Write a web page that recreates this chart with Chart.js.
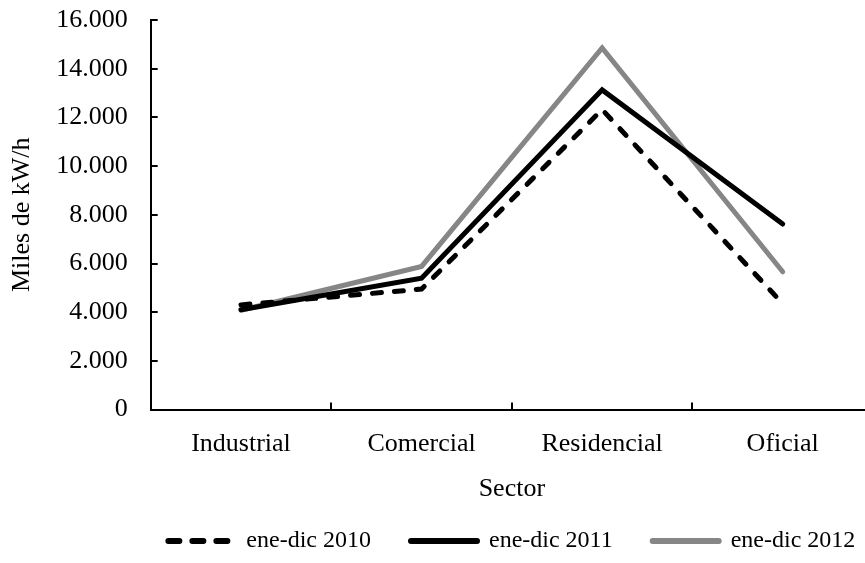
<!DOCTYPE html>
<html>
<head>
<meta charset="utf-8">
<script src="https://cdn.jsdelivr.net/npm/chart.js@4"></script>
<style>
  html, body { margin: 0; padding: 0; background: #fff; overflow: hidden; }
  #wrap { width: 865px; height: 563px; overflow: hidden; }
  #box { width: 882px; height: 563px; }
</style>
</head>
<body>
<div id="wrap"><div id="box"><canvas id="consumoChart"></canvas></div></div>
<script>
const sectores = ['Industrial', 'Comercial', 'Residencial', 'Oficial'];
const serie2010 = [4300, 4950, 12320, 4350];
const serie2011 = [4100, 5400, 13130, 7620];
const serie2012 = [4080, 5880, 14850, 5660];
const ticksY = [0, 2000, 4000, 6000, 8000, 10000, 12000, 14000, 16000];

const fuente = 'Liberation Serif, Times New Roman, serif';
const tam = 26;

function miles(v) {
  return v === 0 ? '0' : v.toLocaleString('de-DE');
}

// marcas de eje hacia dentro, como en Excel
const marcasDentro = {
  id: 'marcasDentro',
  afterDraw(chart) {
    const ctx = chart.ctx;
    const x = chart.scales.x, y = chart.scales.y;
    ctx.save();
    ctx.strokeStyle = '#000';
    ctx.lineWidth = 2;
    ctx.beginPath();
    ticksY.forEach(v => {
      const py = Math.round(y.getPixelForValue(v));
      ctx.moveTo(x.left, py);
      ctx.lineTo(x.left + 7, py);
    });
    for (let i = 1; i < sectores.length; i++) {
      const px = Math.round((x.getPixelForValue(i - 1) + x.getPixelForValue(i)) / 2);
      ctx.moveTo(px, y.bottom);
      ctx.lineTo(px, y.bottom - 7);
    }
    ctx.stroke();
    ctx.restore();
  }
};

const data = {
  labels: sectores,
  datasets: [
    {
      label: 'ene-dic 2010',
      data: serie2010,
      borderColor: '#000',
      backgroundColor: '#000',
      borderWidth: 5,
      borderDash: [9, 13],
      borderCapStyle: 'round',
      pointRadius: 0
    },
    {
      label: 'ene-dic 2011',
      data: serie2011,
      borderColor: '#000',
      backgroundColor: '#000',
      borderWidth: 5,
      borderCapStyle: 'round',
      pointRadius: 0
    },
    {
      label: 'ene-dic 2012',
      data: serie2012,
      borderColor: '#868686',
      backgroundColor: '#868686',
      borderWidth: 5,
      borderCapStyle: 'round',
      pointRadius: 0
    }
  ]
};

const config = {
  type: 'line',
  data: data,
  plugins: [marcasDentro],
  options: {
    responsive: true,
    maintainAspectRatio: false,
    animation: false,
    layout: { padding: { top: 20, right: 9, left: 0, bottom: 0 } },
    plugins: {
      tooltip: { enabled: false },
      legend: {
        position: 'bottom',
        fullSize: false,
        labels: {
          usePointStyle: true,
          pointStyle: 'line',
          pointStyleWidth: 66,
          boxHeight: 6,
          padding: 10,
          color: '#000',
          font: { family: fuente, size: 24 },
          generateLabels(chart) {
            const items = Chart.defaults.plugins.legend.labels.generateLabels(chart);
            items.forEach((it, i) => {
              const ds = chart.data.datasets[it.datasetIndex];
              it.lineDash = ds.borderDash ? [11, 13] : [];
              it.lineCap = 'round';
              it.lineWidth = 6;
              if (i < items.length - 1) it.text = it.text + '     ';
            });
            return items;
          }
        }
      }
    },
    scales: {
      x: {
        offset: true,
        border: { color: '#000', width: 2 },
        grid: { display: false, drawTicks: false },
        ticks: { color: '#000', padding: 19, font: { family: fuente, size: tam } },
        title: {
          display: true,
          text: 'Sector',
          color: '#000',
          padding: { top: -5, bottom: 14 },
          font: { family: fuente, size: tam }
        }
      },
      y: {
        min: 0,
        max: 16000,
        border: { color: '#000', width: 2 },
        grid: { display: true, drawOnChartArea: false, drawTicks: true, tickLength: 20, color: 'rgba(0,0,0,0)' },
        afterBuildTicks: axis => { axis.ticks = ticksY.map(v => ({ value: v })); },
        ticks: {
          color: '#000',
          padding: 3,
          font: { family: fuente, size: tam },
          callback: v => miles(v)
        },
        title: {
          display: true,
          text: 'Miles de kW/h',
          color: '#000',
          padding: { top: 7, bottom: 15 },
          font: { family: fuente, size: tam }
        }
      }
    }
  }
};

window.consumoChart = new Chart(document.getElementById('consumoChart'), config);
</script>
</body>
</html>
